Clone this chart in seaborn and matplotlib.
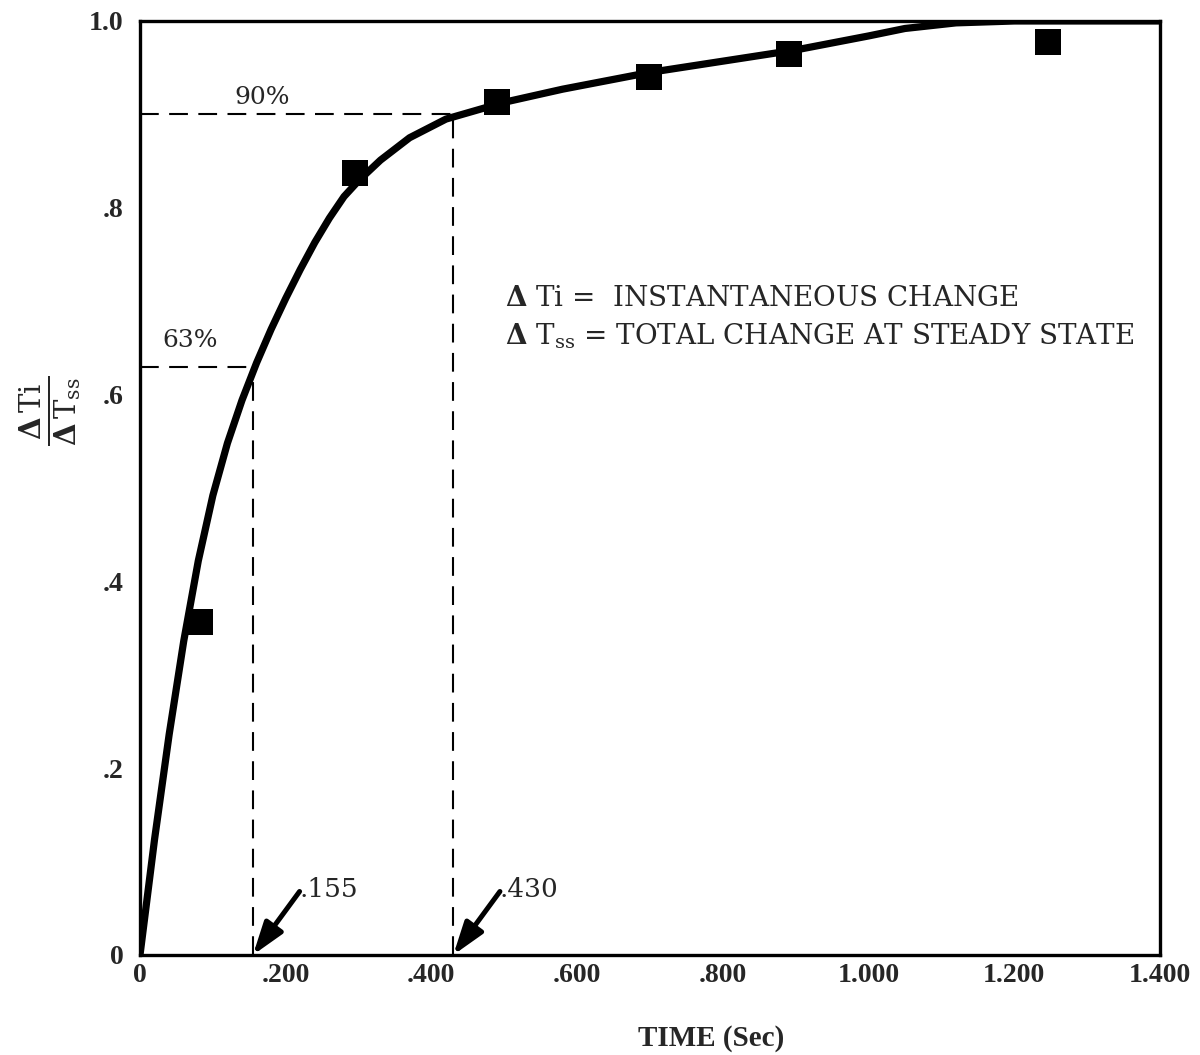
import matplotlib
matplotlib.use("Agg")
import matplotlib.pyplot as plt
import seaborn as sns
import pandas as pd

# ---- data ----
curve_time = [0.0, 0.02, 0.04, 0.06, 0.08, 0.10, 0.12, 0.14, 0.16, 0.18, 0.20,
              0.22, 0.24, 0.26, 0.28, 0.30, 0.33, 0.37, 0.42, 0.50, 0.58, 0.70,
              0.80, 0.90, 1.00, 1.05, 1.12, 1.20, 1.40]
curve_ratio = [0.0, 0.124, 0.236, 0.336, 0.422, 0.492, 0.548, 0.594, 0.634, 0.670, 0.703,
               0.734, 0.763, 0.789, 0.812, 0.829, 0.851, 0.875, 0.895, 0.913, 0.927, 0.945,
               0.957, 0.969, 0.984, 0.992, 0.998, 1.000, 1.000]

point_time = [0.082, 0.295, 0.490, 0.699, 0.891, 1.246]
point_ratio = [0.357, 0.837, 0.913, 0.940, 0.965, 0.978]

x_ticks = [0.0, 0.2, 0.4, 0.6, 0.8, 1.0, 1.2, 1.4]
x_tick_labels = ["0", ".200", ".400", ".600", ".800", "1.000", "1.200", "1.400"]
y_ticks = [0.0, 0.2, 0.4, 0.6, 0.8, 1.0]
y_tick_labels = ["0", ".2", ".4", ".6", ".8", "1.0"]

t63, r63 = 0.155, 0.63
t90, r90 = 0.430, 0.90
marks = [(t63, ".155"), (t90, ".430")]

sns.set_style("white")
plt.rcParams["font.family"] = ["DejaVu Serif", "DejaVu Sans"]
plt.rcParams["mathtext.fontset"] = "dejavuserif"

fig = plt.figure(figsize=(12, 10.55), dpi=100)
ax = fig.add_axes([140 / 1200, 1 - 955 / 1055, 1020 / 1200, (955 - 21) / 1055])

curve_df = pd.DataFrame({"t": curve_time, "r": curve_ratio})
pts_df = pd.DataFrame({"t": point_time, "r": point_ratio})

sns.lineplot(data=curve_df, x="t", y="r", sort=False, estimator=None,
             color="black", linewidth=5.2, ax=ax, zorder=3)
sns.scatterplot(data=pts_df, x="t", y="r", marker="s", s=340, color="black",
                edgecolor="black", linewidth=0, ax=ax, zorder=4)

dash = dict(color="black", linewidth=1.5, linestyle=(0, (9, 5)), zorder=2)
ax.plot([0, t63], [r63, r63], **dash)
ax.plot([t63, t63], [0, r63], **dash)
ax.plot([0, t90], [r90, r90], **dash)
ax.plot([t90, t90], [0, r90], **dash)

ax.text(0.069, 0.658, "63%", fontsize=18, ha="center", va="center")
ax.text(0.168, 0.918, "90%", fontsize=18, ha="center", va="center")

for t, lab in marks:
    ax.annotate("", xy=(t, 0.0), xytext=(t + 0.064, 0.068),
                arrowprops=dict(arrowstyle="-|>,head_length=0.9,head_width=0.3",
                                lw=3.6, color="black", shrinkA=0, shrinkB=0,
                                mutation_scale=22))
    ax.text(t + 0.064, 0.070, lab, fontsize=19, ha="left", va="center")

ax.text(0.501, 0.703, r"$\mathbf{\Delta}$ Ti =  INSTANTANEOUS CHANGE",
        fontsize=20, ha="left", va="center")
ax.text(0.501, 0.662, r"$\mathbf{\Delta}$ T$_{\mathrm{ss}}$ = TOTAL CHANGE AT STEADY STATE",
        fontsize=20, ha="left", va="center")

ax.set_xlim(0, 1.4)
ax.set_ylim(0, 1.0)
ax.set_xticks(x_ticks)
ax.set_xticklabels(x_tick_labels, fontfamily="Liberation Serif", fontweight="bold", fontsize=20)
ax.set_yticks(y_ticks + [0.9])
ax.set_yticklabels(y_tick_labels + [""], fontfamily="Liberation Serif", fontweight="bold", fontsize=20)
ax.tick_params(axis="both", direction="in", length=14, width=1.6, color="black")
ax.tick_params(axis="x", pad=6)
ax.tick_params(axis="y", pad=12)

ax.set_xlabel("TIME (Sec)", fontfamily="Liberation Serif", fontweight="bold", fontsize=21,
              va="center")
ax.xaxis.set_label_coords(0.56, -0.089)
ax.set_ylabel(r"$\frac{\mathbf{\Delta}\,\mathrm{Ti}}{\mathbf{\Delta}\,\mathrm{T_{ss}}}$",
              fontsize=30, rotation=90, va="center")
ax.yaxis.set_label_coords(-0.088, 0.583)

for s in ax.spines.values():
    s.set_visible(True)
    s.set_color("black")
    s.set_linewidth(2.4)

fig.savefig("out.png", dpi=100, facecolor="white")
